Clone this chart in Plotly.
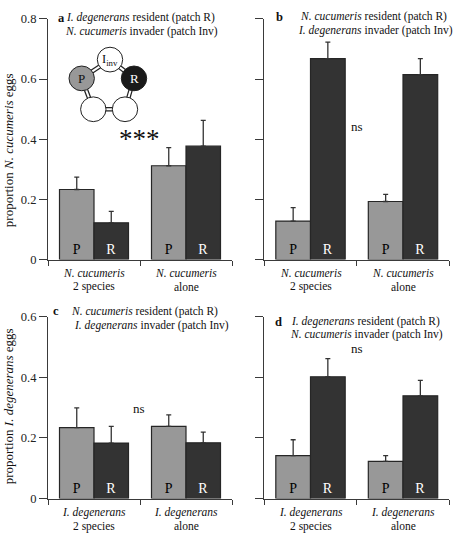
import plotly.graph_objects as go

# ---------------- data ----------------
groups = [0, 1]  # two categories per panel
cat_labels_top = [("N. cucumeris", "2 species"), ("N. cucumeris", "alone")]
cat_labels_bot = [("I. degenerans", "2 species"), ("I. degenerans", "alone")]

a_P = [0.233, 0.312]
a_P_se = [0.041, 0.060]
a_R = [0.122, 0.377]
a_R_se = [0.038, 0.086]

b_P = [0.128, 0.193]
b_P_se = [0.045, 0.024]
b_R = [0.668, 0.615]
b_R_se = [0.055, 0.053]

c_P = [0.234, 0.238]
c_P_se = [0.065, 0.038]
c_R = [0.183, 0.184]
c_R_se = [0.055, 0.035]

d_P = [0.142, 0.123]
d_P_se = [0.052, 0.019]
d_R = [0.402, 0.339]
d_R_se = [0.060, 0.051]

y_ticks_top = [0, 0.2, 0.4, 0.6, 0.8]
y_ticks_bot = [0, 0.2, 0.4, 0.6]

# ---------------- style ----------------
FONT = "Liberation Serif"
GRAY = "#989898"
DARK = "#333333"
EDGE = "#262626"
AX = "#3a3a3a"
W, H = 453, 538

fig = go.Figure()

panels = [
    ("x", "y", a_P, a_P_se, a_R, a_R_se),
    ("x2", "y2", b_P, b_P_se, b_R, b_R_se),
    ("x3", "y3", c_P, c_P_se, c_R, c_R_se),
    ("x4", "y4", d_P, d_P_se, d_R, d_R_se),
]

for xa, ya, P, Pse, R, Rse in panels:
    for vals, se, col, lab, tcol in [(P, Pse, GRAY, "P", "black"), (R, Rse, DARK, "R", "white")]:
        fig.add_trace(go.Bar(
            x=groups, y=vals, xaxis=xa, yaxis=ya,
            marker=dict(color=col, line=dict(color=EDGE, width=1.2)),
            error_y=dict(type="data", array=se, arrayminus=[0] * len(se), symmetric=False,
                         color=DARK, thickness=1.3, width=2.5),
            text=[lab] * len(vals), textposition="inside", insidetextanchor="start",
            textfont=dict(family=FONT, size=14, color=tcol), textangle=0,
            showlegend=False, hoverinfo="skip", cliponaxis=False,
        ))

xa_left = [48 / W, 232 / W]
xa_right = [264.25 / W, 449.25 / W]
ya_top = [(H - 259.3) / H, (H - 12.3) / H]
ya_bot = [(H - 504.7) / H, (H - 318.0) / H]

xcommon = dict(range=[-0.5, 1.5], tickvals=[-0.5, 0.5, 1.5], ticks="outside", ticklen=5,
               tickcolor=AX, showticklabels=False, showline=True, linecolor=AX, linewidth=1.2,
               showgrid=False, zeroline=False, fixedrange=True)


def ycommon(rng, tv, labels):
    return dict(range=rng, tickvals=tv, ticktext=[("0" if v == 0 else f"{v:.1f}") for v in tv],
                showticklabels=labels, ticks="outside", ticklen=8, tickcolor=AX, tickwidth=1.2,
                showline=True, linecolor=AX, linewidth=1.2, showgrid=False, zeroline=False,
                tickfont=dict(family=FONT, size=12.5, color="#222"), fixedrange=True)


fig.update_layout(
    width=W, height=H, margin=dict(l=0, r=0, t=0, b=0),
    paper_bgcolor="white", plot_bgcolor="rgba(0,0,0,0)",
    barmode="group", bargap=0.25, bargroupgap=0.0,
    xaxis=dict(domain=xa_left, anchor="y", **xcommon),
    yaxis=dict(domain=ya_top, anchor="x", **ycommon([0, 0.8], y_ticks_top, True)),
    xaxis2=dict(domain=xa_right, anchor="y2", **xcommon),
    yaxis2=dict(domain=ya_top, anchor="x2", **ycommon([0, 0.8], y_ticks_top, False)),
    xaxis3=dict(domain=xa_left, anchor="y3", **xcommon),
    yaxis3=dict(domain=ya_bot, anchor="x3", **ycommon([0, 0.6], y_ticks_bot, True)),
    xaxis4=dict(domain=xa_right, anchor="y4", **xcommon),
    yaxis4=dict(domain=ya_bot, anchor="x4", **ycommon([0, 0.6], y_ticks_bot, False)),
    # pixel overlay axis for decorations
    xaxis5=dict(domain=[0, 1], range=[0, W], visible=False, anchor="y5", fixedrange=True),
    yaxis5=dict(domain=[0, 1], range=[H, 0], visible=False, anchor="x5", fixedrange=True),
    uniformtext=dict(minsize=13, mode="show"),
)
# an invisible trace so overlay axis exists
fig.add_trace(go.Scatter(x=[0], y=[0], xaxis="x5", yaxis="y5", mode="markers",
                         marker=dict(opacity=0), showlegend=False, hoverinfo="skip"))

ann = []


def txt(x, y, s, size=11.5, xanchor="center", **kw):
    ann.append(dict(x=x, y=y, xref="x5", yref="y5", text=s, showarrow=False,
                    xanchor=xanchor, yanchor="middle",
                    font=dict(family=FONT, size=size, color="#111"), **kw))


# headers
txt(61, 11, "<b>a</b>", 12.5)
txt(140, 11, "<i>I. degenerans</i> resident (patch R)")
txt(141.5, 25, "<i>N. cucumeris</i> invader (patch Inv)")
txt(279, 10, "<b>b</b>", 12.5)
txt(373, 10, "<i>N. cucumeris</i> resident (patch R)")
txt(375, 24, "<i>I. degenerans</i> invader (patch Inv)")
txt(56, 312.5, "<b>c</b>", 12.5)
txt(144, 312.5, "<i>N. cucumeris</i> resident (patch R)")
txt(151, 326.5, "<i>I. degenerans</i> invader (patch Inv)")
txt(278, 323, "<b>d</b>", 12.5)
txt(365, 323, "<i>I. degenerans</i> resident (patch R)")
txt(366, 336.5, "<i>N. cucumeris</i> invader (patch Inv)")

# significance
txt(139, 136, "***", 27)
txt(357, 123, "ns", 13)
txt(139, 412, "ns", 13)
txt(357, 351, "ns", 13)

# y titles
ann.append(dict(x=8, y=147, xref="x5", yref="y5", text="proportion <i>N. cucumeris</i> eggs",
                showarrow=False, textangle=-90, font=dict(family=FONT, size=13, color="#111")))
ann.append(dict(x=8, y=410, xref="x5", yref="y5", text="proportion <i>I. degenerans</i> eggs",
                showarrow=False, textangle=-90, font=dict(family=FONT, size=13, color="#111")))

# category labels
for xa, labels, y1, y2 in [("x", cat_labels_top, 273, 287), ("x2", cat_labels_top, 273, 287),
                           ("x3", cat_labels_bot, 519, 533), ("x4", cat_labels_bot, 519, 533)]:
    for g, (l1, l2) in zip(groups, labels):
        ann.append(dict(x=g, y=y1, xref=xa, yref="y5", text=f"<i>{l1}</i>", showarrow=False,
                        font=dict(family=FONT, size=11.5, color="#111")))
        ann.append(dict(x=g, y=y2, xref=xa, yref="y5", text=l2, showarrow=False,
                        font=dict(family=FONT, size=11.5, color="#111")))

# inset network diagram (panel a)
nodes = {"I": (110, 54, "white"), "P": (81.7, 73.3, GRAY), "R": (134, 73.3, "#1a1a1a"),
         "BL": (93.3, 105, "white"), "BR": (125, 105, "white")}
rad = 12.7
links = [("I", "P"), ("I", "R"), ("P", "BL"), ("R", "BR"), ("BL", "BR")]
shapes = []
for u, v in links:
    x0, y0, _ = nodes[u]
    x1, y1, _ = nodes[v]
    shapes.append(dict(type="line", xref="x5", yref="y5", x0=x0, y0=y0, x1=x1, y1=y1,
                       line=dict(color="#222", width=4.5), layer="above"))
    shapes.append(dict(type="line", xref="x5", yref="y5", x0=x0, y0=y0, x1=x1, y1=y1,
                       line=dict(color="white", width=2), layer="above"))
for k, (cx, cy, col) in nodes.items():
    shapes.append(dict(type="circle", xref="x5", yref="y5", x0=cx - rad, x1=cx + rad,
                       y0=cy - rad, y1=cy + rad, fillcolor=col,
                       line=dict(color="#222", width=1), layer="above"))
fig.update_layout(shapes=shapes)

ann.append(dict(x=110, y=54, xref="x5", yref="y5", text="I<sub>inv</sub>", showarrow=False,
                font=dict(family=FONT, size=12.5, color="#111")))
ann.append(dict(x=81.7, y=73.3, xref="x5", yref="y5", text="P", showarrow=False,
                font=dict(family=FONT, size=13, color="#111")))
ann.append(dict(x=134, y=73.3, xref="x5", yref="y5", text="R", showarrow=False,
                font=dict(family=FONT, size=13, color="white")))

fig.update_layout(annotations=ann)
fig.write_html("out.html", config={"displayModeBar": False},
               post_script="document.body.style.margin='0';document.body.style.overflow='hidden';")
